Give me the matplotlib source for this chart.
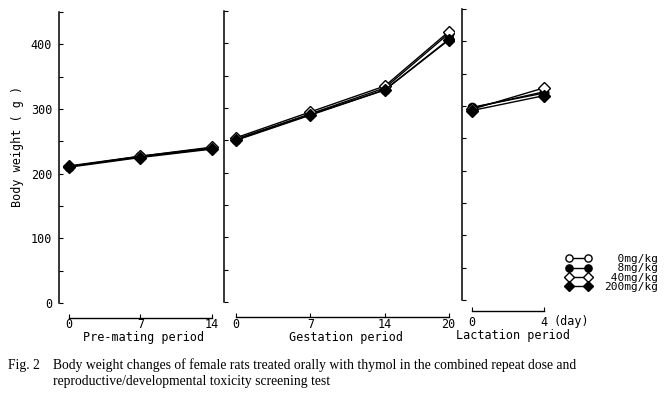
import matplotlib.pyplot as plt
import matplotlib.transforms as mtransforms
from matplotlib.lines import Line2D

plt.rcParams["font.family"] = ["DejaVu Sans Mono"]
plt.rcParams["font.size"] = 8.5

# days per period
days_pre = [0, 7, 14]
days_gest = [0, 7, 14, 20]
days_lact = [0, 4]

doses = ["0mg/kg", "8mg/kg", "40mg/kg", "200mg/kg"]

# body weight (g) per dose group
pre_0 = [211, 227, 240]
pre_8 = [211, 226, 239]
pre_40 = [212, 227, 241]
pre_200 = [210, 225, 238]

gest_0 = [252, 291, 331, 415]
gest_8 = [251, 290, 328, 406]
gest_40 = [254, 294, 334, 418]
gest_200 = [250, 289, 328, 405]

lact_0 = [297, 322]
lact_8 = [298, 320]
lact_40 = [295, 328]
lact_200 = [293, 316]

pre = [pre_0, pre_8, pre_40, pre_200]
gest = [gest_0, gest_8, gest_40, gest_200]
lact = [lact_0, lact_8, lact_40, lact_200]

styles = [
    dict(marker="o", mfc="white"),
    dict(marker="o", mfc="black"),
    dict(marker="D", mfc="white"),
    dict(marker="D", mfc="black"),
]
msizes = [6, 6, 6, 6.5]

W, H = 672, 396
fig = plt.figure(figsize=(W / 100, H / 100), dpi=100)


def px_axes(left, right, base):
    # 0 g at y=base px, 450 g 291 px higher
    return fig.add_axes([left / W, (H - base) / H, (right - left) / W, 291 / H])


ax1 = px_axes(59, 222, 303)
ax2 = px_axes(224, 454, 302)
ax3 = px_axes(462, 562, 300)

# axis, days, series, xlim, spine offset, label, tick-label y, label y (px)
panels = [
    (ax1, days_pre, pre, (-0.98, 15.0), 11, "Pre-mating period", 324, 338),
    (ax2, days_gest, gest, (-1.13, 20.5), 11, "Gestation period", 324, 338),
    (ax3, days_lact, lact, (-0.56, 5.0), 8, "Lactation period", 322, 335),
]

for ax, days, series, xlim, off, label, ty, ly in panels:
    for vals, st, ms in zip(series, styles, msizes):
        ax.plot(days, vals, color="black", lw=1.0, mec="black", ms=ms, **st)
    ax.set_xlim(*xlim)
    ax.set_ylim(0, 450)
    ax.patch.set_visible(False)
    for s in ["top", "right"]:
        ax.spines[s].set_visible(False)
    ax.spines["left"].set_linewidth(1.1)
    ax.spines["bottom"].set_position(("outward", off))
    ax.spines["bottom"].set_bounds(days[0], days[-1])
    ax.spines["bottom"].set_linewidth(1.0)
    ax.set_xticks(days)
    ax.set_yticks(range(0, 451, 100))
    ax.set_yticks(range(50, 451, 100), minor=True)
    ax.tick_params(axis="y", which="both", direction="in", length=3, width=0.8, pad=5)
    ax.tick_params(axis="x", direction="in", length=3, width=0.8, labelbottom=False)
    trans = mtransforms.blended_transform_factory(ax.transData, fig.transFigure)
    for d in days:
        ax.text(d, 1 - ty / H, str(d), transform=trans, ha="center", va="center")
    ax.text((days[0] + days[-1]) / 2 + 0.3, 1 - ly / H, label, transform=trans,
            ha="center", va="center")
    if ax is not ax1:
        ax.tick_params(axis="y", labelleft=False)

fig.text(18 / W, 1 - 146 / H, "Body weight ( g )", rotation=90, ha="center", va="center")

trans3 = mtransforms.blended_transform_factory(ax3.transData, fig.transFigure)
ax3.text(4.5, 1 - 322 / H, "(day)", transform=trans3, ha="left", va="center")

handles = [
    Line2D([], [], color="black", lw=1.0, mec="black", ms=5.2, **st)
    for st in styles
]
labels = [d.rjust(8) for d in doses]
fig.legend(
    handles, labels,
    loc="upper left", bbox_to_anchor=(566 / W, 1 - 254 / H),
    frameon=False, numpoints=2, fontsize=8,
    handlelength=2.3, handletextpad=1.1, labelspacing=-0.05,
    borderpad=0, borderaxespad=0,
)

cap_font = dict(family="Liberation Serif", fontsize=9.8)
fig.text(8 / W, 1 - 365 / H, "Fig. 2", va="center", ha="left", **cap_font)
fig.text(53 / W, 1 - 365 / H,
         "Body weight changes of female rats treated orally with thymol in the combined repeat dose and",
         va="center", ha="left", **cap_font)
fig.text(53 / W, 1 - 381 / H,
         "reproductive/developmental toxicity screening test",
         va="center", ha="left", **cap_font)

fig.savefig("out.png", dpi=100)
